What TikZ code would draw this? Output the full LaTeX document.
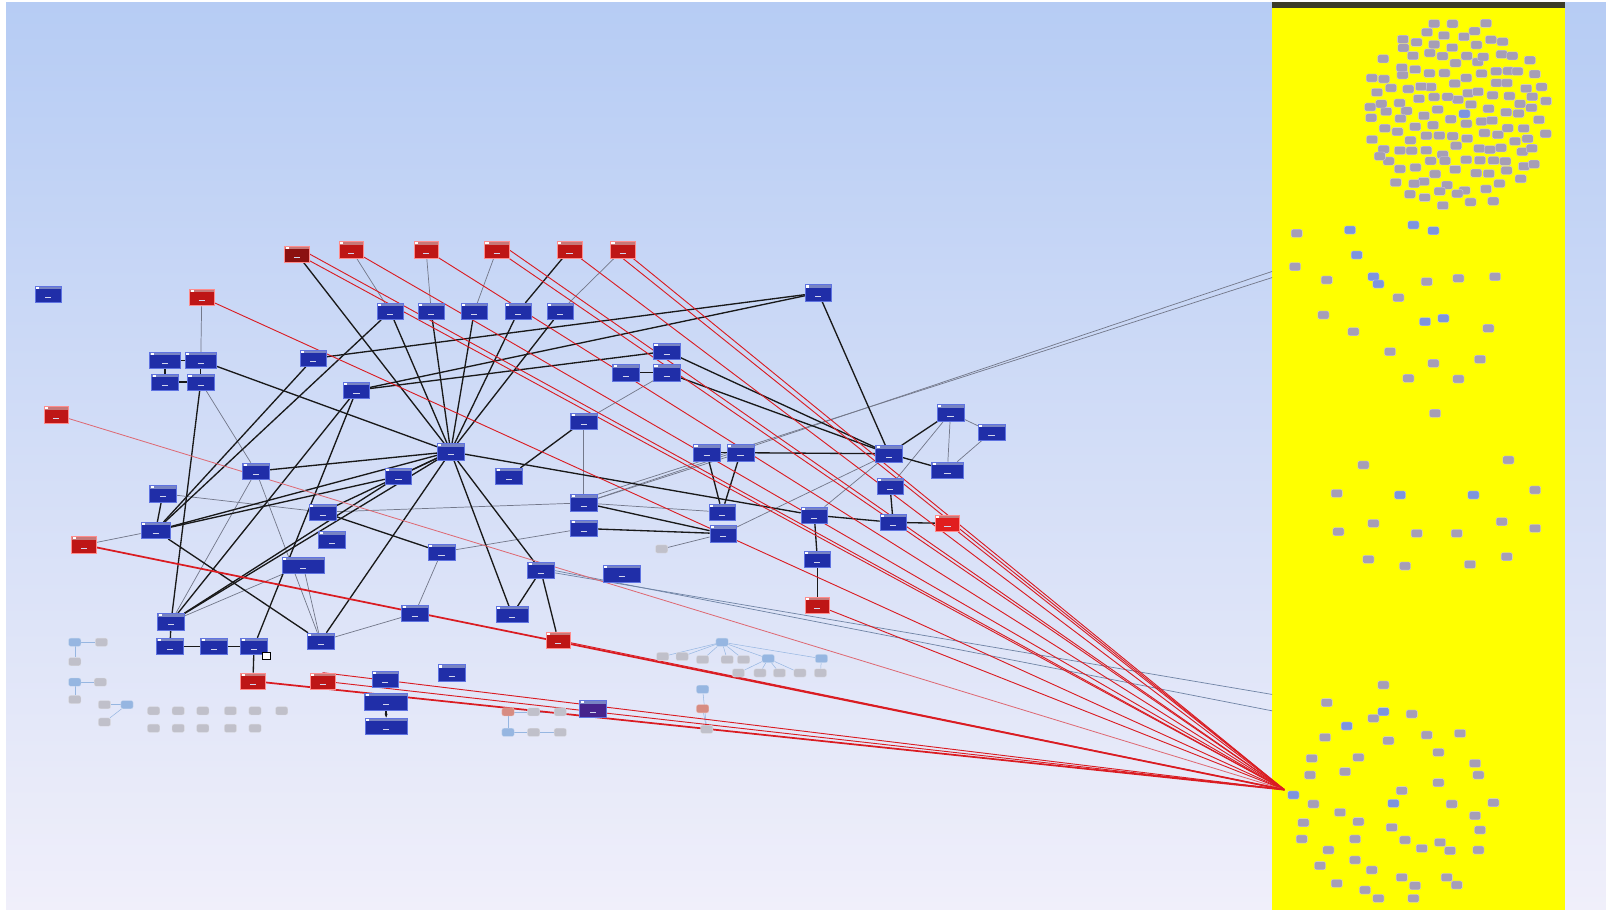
\documentclass[tikz,border=0pt]{standalone}
\usetikzlibrary{arrows.meta}

\definecolor{skytop}{RGB}{182,204,244}
\definecolor{skymid}{RGB}{214,226,248}
\definecolor{skybot}{RGB}{240,239,250}
\definecolor{panelyellow}{RGB}{255,255,0}
\definecolor{barolive}{RGB}{60,60,40}
\definecolor{nodeblue}{RGB}{32,46,168}
\definecolor{nodeedge}{RGB}{95,115,225}
\definecolor{headblue}{RGB}{120,132,196}
\definecolor{nodered}{RGB}{190,22,22}
\definecolor{nodedarkred}{RGB}{140,16,16}
\definecolor{nodebright}{RGB}{225,30,30}
\definecolor{headred}{RGB}{200,120,120}
\definecolor{linkred}{RGB}{218,28,34}
\definecolor{linkpink}{RGB}{222,105,115}
\definecolor{linkgray}{RGB}{115,120,138}
\definecolor{linkblue}{RGB}{112,132,165}
\definecolor{icongray}{RGB}{166,158,182}
\definecolor{iconblue}{RGB}{125,148,222}
\definecolor{palegray}{RGB}{192,192,202}
\definecolor{paleblue}{RGB}{150,182,225}
\definecolor{palered}{RGB}{215,140,130}
\definecolor{purplenode}{RGB}{70,35,140}

\pgfdeclarelayer{back}
\pgfdeclarelayer{links}
\pgfsetlayers{back,links,main}

\tikzset{
  boxdeco/.style={path picture={
      \fill[#1] (path picture bounding box.north west) rectangle ([yshift=-3pt]path picture bounding box.north east);
      \fill[white] ([shift={(1pt,-0.5pt)}]path picture bounding box.north west) rectangle ++(3pt,-2.2pt);
      \draw[white!80!nodeblue,line width=0.6pt] ([shift={(-3pt,-3pt)}]path picture bounding box.center) -- ++(6pt,0);
  }},
  bnode/.style={rectangle,fill=nodeblue,draw=nodeedge,line width=0.5pt,
    minimum width=#1,minimum height=16pt,inner sep=0pt,boxdeco=headblue},
  bnode/.default=26pt,
  rnode/.style={rectangle,fill=nodered,draw=red!45!white,line width=0.5pt,
    minimum width=#1,minimum height=16pt,inner sep=0pt,boxdeco=headred},
  rnode/.default=24pt,
  icon/.style={rectangle,rounded corners=2pt,fill=icongray,draw=white!55!icongray,
    line width=0.3pt,minimum width=11pt,minimum height=8pt,inner sep=0pt},
  iconB/.style={icon,fill=iconblue,draw=white!55!iconblue},
  pgray/.style={icon,fill=palegray,draw=white!50!palegray,minimum width=12pt,minimum height=8pt},
  pblue/.style={icon,fill=paleblue,draw=white!50!paleblue,minimum width=12pt,minimum height=8pt},
  pred/.style={icon,fill=palered,draw=white!50!palered,minimum width=12pt,minimum height=8pt},
  blk/.style={draw=black!90,line width=1.3pt},
  gry/.style={draw=linkgray,line width=0.7pt},
  redl/.style={draw=linkred,line width=0.9pt},
  redw/.style={draw=linkred,line width=1.7pt},
  pinkl/.style={draw=linkpink,line width=0.8pt},
  bluel/.style={draw=linkblue,line width=0.7pt},
  faint/.style={draw=paleblue,line width=0.5pt},
}

\begin{document}
\begin{tikzpicture}[x=1pt,y=-1pt]
\useasboundingbox (0,0) rectangle (1568,888);

% background, side strips and the yellow panel
\begin{pgfonlayer}{back}
  \shade[top color=skytop,middle color=skymid,bottom color=skybot] (0,0) rectangle (1568,888);
  \fill[white] (0,0) rectangle (6,888);
  \fill[white] (0,0) rectangle (1568,2);
  \fill[panelyellow] (1242,5) rectangle (1528,888);
  \fill[barolive] (1242,2) rectangle (1528,8);
\end{pgfonlayer}

% ---------- red nodes ----------
\node[rnode,fill=nodedarkred] (r1) at (290,248) {};
\node[rnode] (r2) at (343,244) {};
\node[rnode] (r3) at (416,244) {};
\node[rnode] (r4) at (485,244) {};
\node[rnode] (r5) at (556,244) {};
\node[rnode] (r6) at (608,244) {};
\node[rnode] (r7) at (197,290) {};
\node[rnode] (r8) at (55,405) {};
\node[rnode] (r9) at (82,532) {};
\node[rnode] (r10) at (247,665) {};
\node[rnode] (r11) at (315,665) {};
\node[rnode] (r12) at (545,625) {};
\node[rnode] (r13) at (798,591) {};
\node[rnode,fill=nodebright] (r14) at (925,511) {};

% ---------- blue nodes ----------
\node[bnode] (b1) at (47,287) {};
\node[bnode] (b2) at (381,304) {};
\node[bnode] (b3) at (421,304) {};
\node[bnode] (b4) at (463,304) {};
\node[bnode] (b5) at (506,304) {};
\node[bnode] (b6) at (547,304) {};
\node[bnode] (b7) at (306,350) {};
\node[bnode=30pt] (b8) at (161,352) {};
\node[bnode=30pt] (b9) at (196,352) {};
\node[bnode] (b10) at (161,373) {};
\node[bnode] (b11) at (196,373) {};
\node[bnode] (b12) at (348,381) {};
\node[bnode] (b13) at (651,343) {};
\node[bnode] (b14) at (611,364) {};
\node[bnode] (b15) at (651,364) {};
\node[bnode] (b16) at (799,286) {};
\node[bnode] (hub) at (440,441) {};
\node[bnode] (b17) at (570,411) {};
\node[bnode] (b18) at (690,442) {};
\node[bnode] (b19) at (723,442) {};
\node[bnode] (b20) at (868,443) {};
\node[bnode] (b21) at (928,403) {};
\node[bnode] (b22) at (968,422) {};
\node[bnode=31pt] (b23) at (925,459) {};
\node[bnode] (b24) at (869,475) {};
\node[bnode] (b25) at (872,510) {};
\node[bnode] (b26) at (795,503) {};
\node[bnode] (b27) at (798,546) {};
\node[bnode] (b28) at (705,500) {};
\node[bnode] (b29) at (706,521) {};
\node[bnode] (b30) at (570,491) {};
\node[bnode] (b31) at (570,516) {};
\node[bnode] (b32) at (250,460) {};
\node[bnode] (b33) at (159,482) {};
\node[bnode=29pt] (b34) at (152,518) {};
\node[bnode] (b35) at (389,465) {};
\node[bnode] (b36) at (497,465) {};
\node[bnode] (b37) at (315,500) {};
\node[bnode] (b38) at (324,527) {};
\node[bnode=41pt] (b39) at (296,552) {};
\node[bnode] (b40) at (431,539) {};
\node[bnode] (b41) at (528,557) {};
\node[bnode=36pt] (b42) at (607,560) {};
\node[bnode=31pt] (b43) at (500,600) {};
\node[bnode] (b44) at (405,599) {};
\node[bnode] (b45) at (167,607) {};
\node[bnode] (b46) at (166,631) {};
\node[bnode] (b47) at (209,631) {};
\node[bnode] (b48) at (248,631) {};
\node[bnode] (b49) at (313,626) {};
\node[bnode] (b50) at (376,663) {};
\node[bnode] (b51) at (441,657) {};
\node[bnode=42pt] (b52) at (377,685) {};
\node[bnode=41pt] (b53) at (377,709) {};
\node[bnode,fill=purplenode] (b54) at (579,692) {};
\node[pgray] (g1) at (646,536) {};
\node[draw=black,fill=white,line width=0.6pt,minimum size=7pt,inner sep=0pt] (cur) at (260,640) {};

% ---------- small pale groups ----------
\node[pblue] (l1) at (73,627) {};
\node[pgray] (l2) at (99,627) {};
\node[pgray] (l3) at (73,646) {};
\node[pblue] (l4) at (73,666) {};
\node[pgray] (l5) at (98,666) {};
\node[pgray] (l6) at (73,683) {};
\node[pgray] (l7) at (102,688) {};
\node[pblue] (l8) at (124,688) {};
\node[pgray] (l9) at (102,705) {};
\foreach \x [count=\k] in {150,174,198,225,249,275}{\node[pgray] (ga\k) at (\x,694) {};}
\foreach \x [count=\k] in {150,174,198,225,249}{\node[pgray] (gb\k) at (\x,711) {};}

\node[pblue] (c0) at (705,627) {};
\node[pgray] (c1) at (647,641) {};
\node[pgray] (c2) at (666,641) {};
\node[pgray] (c3) at (686,644) {};
\node[pgray] (c4) at (710,644) {};
\node[pgray] (c5) at (726,644) {};
\node[pblue] (c6) at (750,643) {};
\node[pblue] (c7) at (802,643) {};
\node[pgray] (c8) at (721,657) {};
\node[pgray] (c9) at (742,657) {};
\node[pgray] (c10) at (761,657) {};
\node[pgray] (c11) at (781,657) {};
\node[pgray] (c12) at (801,657) {};

\node[pblue] (d1) at (686,673) {};
\node[pred] (d2) at (686,692) {};
\node[pgray] (d3) at (690,712) {};

\node[pred] (e1) at (496,695) {};
\node[pgray] (e2) at (521,695) {};
\node[pgray] (e3) at (547,695) {};
\node[pblue] (e4) at (496,715) {};
\node[pgray] (e5) at (521,715) {};
\node[pgray] (e6) at (547,715) {};

% ---------- icons on the yellow panel ----------
\pgfmathsetseed{11}
\foreach \i in {0,...,139}{
  \pgfmathsetmacro\rr{92*sqrt((\i+0.5)/140)}
  \pgfmathsetmacro\aa{10*mod(\i*13.7508,36)}
  \pgfmathsetmacro\px{1422+\rr*cos(\aa)+3.5*rand}
  \pgfmathsetmacro\py{111+\rr*sin(\aa)+3.5*rand}
  \ifnum\i=0 \def\st{iconB}\else\def\st{icon}\fi
  \node[\st] (top\i) at (\px,\py) {};
}
\begin{scope}[shift={(1230.23,195.27)},scale=0.32546]
  \foreach \x/\y/\s [count=\k] in {110/100/icon,270/90/iconB,460/75/iconB,520/92/iconB,
    290/165/iconB,105/200/icon,200/240/icon,340/230/iconB,355/252/iconB,500/245/icon,
    595/235/icon,705/230/icon,415/293/icon,190/345/icon,495/365/iconB,550/355/iconB,
    685/385/icon,280/395/icon,390/455/icon,520/490/icon,660/478/icon,445/535/icon,
    595/537/icon,525/640/icon,310/795/icon,745/780/icon,230/880/icon,420/885/iconB,
    640/885/iconB,825/870/icon,340/970/icon,235/995/icon,470/1000/icon,590/1000/icon,
    725/965/icon,825/985/icon,325/1078/icon,435/1098/icon,630/1093/icon,740/1070/icon}
    {\node[\s] (mid\k) at (\x,\y) {};}
\end{scope}
\begin{scope}[shift={(1230.23,624.88)},scale=0.32546]
  \foreach \x/\y/\s [count=\k] in {370/135/icon,200/188/icon,370/215/iconB,340/235/icon,
    260/258/iconB,455/222/icon,195/292/icon,385/302/icon,500/285/icon,600/280/icon,
    535/337/icon,155/355/icon,295/352/icon,255/395/icon,150/405/icon,645/370/icon,
    655/405/icon,535/428/icon,425/452/icon,400/490/iconB,160/492/icon,
    240/517/icon,295/545/icon,575/492/icon,700/488/icon,645/527/icon,130/548/icon,
    395/562/icon,660/570/icon,125/597/icon,285/597/icon,435/600/icon,485/625/icon,
    540/607/icon,570/632/icon,655/630/icon,205/630/icon,180/677/icon,285/660/icon,
    335/690/icon,425/712/icon,465/737/icon,560/712/icon,590/735/icon,230/730/icon,
    315/750/icon,355/775/icon,460/775/icon}
    {\node[\s] (bot\k) at (\x,\y) {};}
  \node[iconB] (sink) at (100,465) {};
\end{scope}
\coordinate (T) at (1254,771);
\coordinate (P1) at (1242,265);
\coordinate (P2) at (1242,271);
\coordinate (P3) at (1242,678);
\coordinate (P4) at (1242,694);

% ---------- connectors ----------
\begin{pgfonlayer}{links}
  % pale groups
  \foreach \a/\b in {l1/l2,l1/l3,l4/l5,l4/l6,l8/l7,l8/l9,c0/c1,c0/c2,c0/c3,c0/c4,c0/c5,c0/c6,
     c6/c8,c6/c9,c6/c10,c6/c11,c7/c12,c0/c7,d1/d3,d2/d3,e1/e2,e2/e3,e4/e5,e5/e6,e1/e4}
    {\draw[faint] (\a) -- (\b);}

  % grey links
  \foreach \a/\b in {r2/b2,r3/b3,r4/b4,r6/b6,r7/b9,b11/b32,b32/b45,b45/b39,b34/r9,
     b17/b30,b17/b15,b29/g1,b29/b20,b30/b19,b30/b28,b21/b22,b21/b23,b22/b23,b21/b24,
     b26/b20,b40/b31,b40/b44,b44/b49,b49/b39,b33/b37,b37/b30,b32/b49}
    {\draw[gry] (\a) -- (\b);}
  \draw[gry] (b30) -- (P1);
  \draw[gry] (b30.north east) -- (P2);
  \draw[bluel] (b41) -- (P3);
  \draw[bluel] (b41.east) -- (P4);

  % black links
  \foreach \a/\b in {hub/r1,hub/b2,hub/b3,hub/b4,hub/b5,hub/b6,hub/b9,hub/b32,hub/b34,
     hub/b35,hub/b37,hub/b45,hub/b41,hub/b43,hub/b26,hub/b49,r5/b5,b7/b16,b12/b16,b12/b13,
     b2/b34,b7/b34,b34/b33,b34/b35,b34/b49,b11/b45,b45/b12,b45/b35,b48/b12,b8/b9,b10/b11,
     b9/b11,b8/b10,b37/b40,b36/b17,b30/b29,b31/b29,b28/b18,b28/b19,b18/b19,b19/b20,
     b13/b20,b15/b20,b14/b15,b16/b20,b20/b21,b20/b23,b24/b25,b26/b25,b25/r14,b26/b27,
     b27/r13,b41/b43,b41/r12,b45/b46,b46/b47,b47/b48,b48/r10}
    {\draw[blk] (\a) -- (\b);}
  \draw[blk,-{Stealth[length=4pt]}] (b52) -- (b53);

  % red links into the panel
  \foreach \a in {r1,r2,r3,r4,r5,r6,r7,r11,r12,r13,r14}
    {\draw[redl] (\a) -- (T);}
  \draw[redl] (r1.east) -- (T);
  \draw[redl] (r4.east) -- (T);
  \draw[redl] (r6.south) -- (T);
  \draw[pinkl] (r8) -- (T);
  \draw[redw] (r9) -- (T);
  \draw[redw] (r10) -- (T);
  \draw[redl] (r11.north) -- (T);
\end{pgfonlayer}
\end{tikzpicture}
\end{document}
